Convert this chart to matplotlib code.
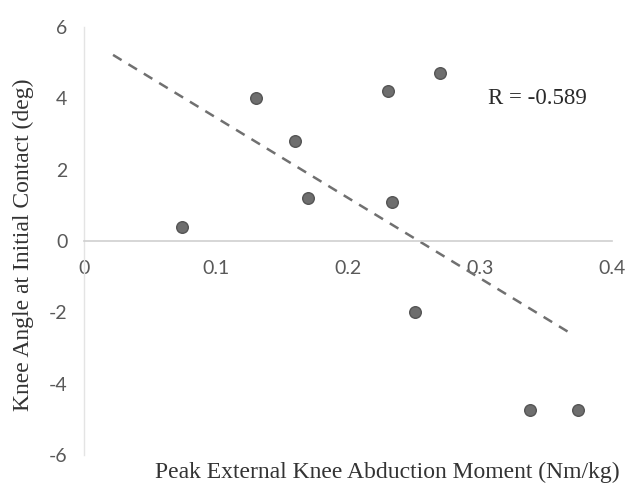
import numpy as np
import matplotlib
matplotlib.use("Agg")
import matplotlib.pyplot as plt

# Peak external knee abduction moment (Nm/kg) vs knee angle at initial contact (deg)
moment = [0.074, 0.130, 0.160, 0.170, 0.230, 0.270, 0.233, 0.251, 0.338, 0.374]
angle = [0.4, 4.0, 2.8, 1.2, 4.2, 4.7, 1.1, -2.0, -4.75, -4.75]
r_label = "R = -0.589"

x_ticks = [0, 0.1, 0.2, 0.3, 0.4]
x_tick_labels = ["0", "0.1", "0.2", "0.3", "0.4"]
y_ticks = [-6, -4, -2, 0, 2, 4, 6]
y_tick_labels = ["-6", "-4", "-2", "0", "2", "4", "6"]

fig = plt.figure(figsize=(6.33, 4.91), dpi=100)
ax = fig.add_axes([0.1327, 0.0733, 0.8343, 0.8717])

ax.scatter(moment, angle, s=70, color="#6e6e6e", edgecolors="#555555",
           linewidths=1.0, zorder=3)

# least-squares trend line
slope, intercept = np.polyfit(moment, angle, 1)
xs = np.array([0.022, 0.369])
ax.plot(xs, slope * xs + intercept, linestyle=(0, (4, 3.2)), color="#707070",
        linewidth=1.8, zorder=2)

ax.set_xlim(0, 0.4)
ax.set_ylim(-6, 6)

for side in ("top", "right"):
    ax.spines[side].set_visible(False)
ax.spines["bottom"].set_position(("data", 0))
ax.spines["bottom"].set_color("#cfcfcf")
ax.spines["bottom"].set_linewidth(1.2)
ax.spines["left"].set_color("#e4e4e4")
ax.spines["left"].set_linewidth(1.0)

tick_font = dict(family="Lato", size=14, color="#595959")
ax.set_xticks(x_ticks)
ax.set_xticklabels(x_tick_labels, **tick_font)
ax.set_yticks(y_ticks)
ax.set_yticklabels(y_tick_labels, **tick_font)
ax.tick_params(axis="both", length=0)
ax.tick_params(axis="x", pad=14)
ax.tick_params(axis="y", pad=12)

label_font = dict(family="Liberation Serif", size=17, color="#333333")
fig.text(387 / 633, 1 - 472 / 491, "Peak External Knee Abduction Moment (Nm/kg)",
         ha="center", va="center", **label_font)
fig.text(23 / 633, 1 - 245 / 491, "Knee Angle at Initial Contact (deg)",
         ha="center", va="center", rotation=90, **label_font)

ax.text(0.306, 4.0, r_label, family="Liberation Serif", size=16.5,
        color="#2a2a2a", va="center", ha="left")

fig.savefig("out.png", dpi=100)
